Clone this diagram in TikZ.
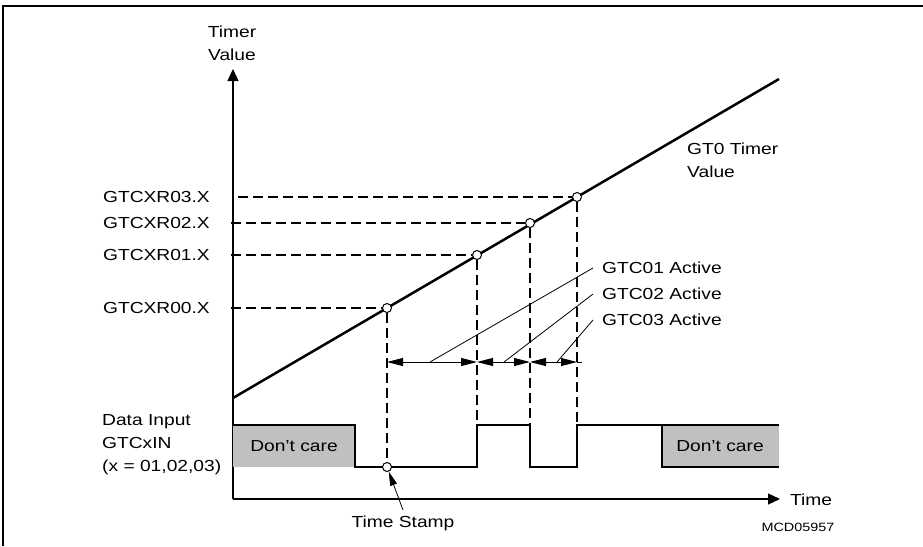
\documentclass[tikz,border=0pt]{standalone}
\usepackage{fontspec}
\setmainfont[FakeStretch=1.2]{Liberation Sans}
\usetikzlibrary{arrows.meta}
\definecolor{dcgray}{RGB}{192,192,192}
\begin{document}
\begin{tikzpicture}[x=1pt,y=-1pt,
  lbl/.style={inner sep=0pt, font=\fontsize{16}{23}\selectfont},
  small/.style={inner sep=0pt, font=\fontsize{12}{14}\selectfont},
  dot/.style={circle, draw, fill=white, line width=1pt, inner sep=0pt, minimum size=9pt},
  thickline/.style={line width=2.5pt},
  dashline/.style={line width=2pt, dash pattern=on 10pt off 5pt},
  leader/.style={line width=0.8pt},
  axis/.style={line width=1.2pt},
  dim/.style={line width=1pt, {Triangle[length=16pt,width=8pt]}-{Triangle[length=16pt,width=8pt]}},
]
\useasboundingbox (0,0) rectangle (923,546);
% frame
\draw[line width=2pt] (3,546) -- (3,6) -- (923,6);

% axes
\coordinate (O) at (233,499);
\coordinate (ytop) at (233,69);
\coordinate (xend) at (780,499);
\draw[axis, -{Triangle[length=12pt,width=11pt]}] (O) -- (ytop);
\draw[axis, -{Triangle[length=12pt,width=11pt]}] (O) -- (xend);
\node[lbl, align=center] (tv) at (232,43) {Timer\\Value};
\node[lbl, anchor=west] (time) at (790,500) {Time};
\node[small] (mcd) at (798,527) {MCD05957};

% timer ramp
\coordinate (T0) at (233,398);
\coordinate (T1) at (779,79);
\draw[thickline] (T0) -- (T1);
\node[lbl, anchor=west, align=left] (gt0) at (687,160) {GT0 Timer\\Value};

% waveform
\fill[dcgray] (233,425) rectangle (355,467);
\fill[dcgray] (662,425) rectangle (779,467);
\draw[thickline] (233,425) -- (355,425) -- (355,467) -- (477,467) -- (477,425)
  -- (530,425) -- (530,467) -- (577,467) -- (577,425) -- (779,425);
\draw[thickline] (662,425) -- (662,467) -- (779,467);
\node[lbl] (dc1) at (294,446) {Don’t care};
\node[lbl] (dc2) at (720,446) {Don’t care};
\node[lbl, anchor=west, align=left] (din) at (102,445) {Data Input\\GTCxIN\\(x = 01,02,03)};

% capture points
\node[dot] (c0) at (387,308) {};
\node[dot] (c1) at (477,255) {};
\node[dot] (c2) at (530,223) {};
\node[dot] (c3) at (577,197) {};
\node[dot] (ts) at (387,467) {};

% register labels + horizontal dashes
\node[lbl, anchor=east] (l0) at (210,308) {GTCXR00.X};
\node[lbl, anchor=east] (l1) at (210,255) {GTCXR01.X};
\node[lbl, anchor=east] (l2) at (210,223) {GTCXR02.X};
\node[lbl, anchor=east] (l3) at (210,197) {GTCXR03.X};
\coordinate (h0) at (231,308);
\coordinate (h1) at (231,255);
\coordinate (h2) at (231,223);
\coordinate (h3) at (238,197);
\draw[dashline] (h0) -- (c0);
\draw[dashline] (h1) -- (c1);
\draw[dashline] (h2) -- (c2);
\draw[dashline] (h3) -- (c3);

% vertical dashes
\coordinate (v1) at (477,425);
\coordinate (v2) at (530,425);
\coordinate (v3) at (577,425);
\draw[dashline] (c0) -- (ts);
\draw[dashline] (c1) -- (v1);
\draw[dashline] (c2) -- (v2);
\draw[dashline] (c3) -- (v3);

% dimension arrows
\coordinate (d0) at (387,362);
\coordinate (d1) at (477,362);
\coordinate (d2) at (530,362);
\coordinate (d3) at (577,362);
\coordinate (d4) at (582,362);
\draw[dim] (d0) -- (d1);
\draw[dim] (d1) -- (d2);
\draw[dim] (d2) -- (d3);
\draw[leader] (d3) -- (d4);

% active labels and leaders
\node[lbl, anchor=west] (a1l) at (602,268) {GTC01 Active};
\node[lbl, anchor=west] (a2l) at (602,294) {GTC02 Active};
\node[lbl, anchor=west] (a3l) at (602,320) {GTC03 Active};
\coordinate (a1) at (430,362);
\coordinate (a2) at (504,362);
\coordinate (a3) at (557,362);
\coordinate (b1) at (593,268);
\coordinate (b2) at (593,294);
\coordinate (b3) at (593,320);
\draw[leader] (a1) -- (b1);
\draw[leader] (a2) -- (b2);
\draw[leader] (a3) -- (b3);

% time stamp
\node[lbl] (tsl) at (403,523) {Time Stamp};
\coordinate (tsa) at (403,510);
\draw[leader, -{Triangle[length=14pt,width=7pt]}] (tsa) -- (ts);
\end{tikzpicture}
\end{document}
